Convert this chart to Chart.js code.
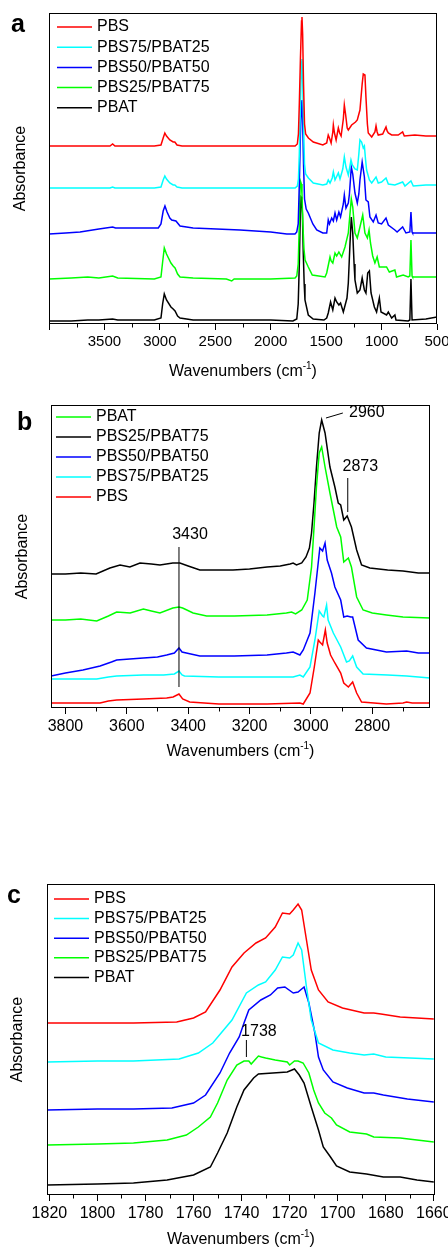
<!DOCTYPE html>
<html lang="en">
<head>
<meta charset="UTF-8">
<title>FTIR spectra PBS/PBAT</title>
<script src="https://cdn.jsdelivr.net/npm/chart.js"></script>
<style>
    body { margin: 0; background: #fff; width: 448px; height: 1248px; position: relative; overflow: hidden; }
    canvas { position: absolute; left: 0; }
</style>
</head>
<body>
<canvas id="chartA" width="448" height="385" style="top:0px"></canvas>
<canvas id="chartB" width="448" height="375" style="top:390px"></canvas>
<canvas id="chartC" width="448" height="378" style="top:870px"></canvas>
<script>
// series names and colours (legend order)
var namesAC = ['PBS', 'PBS75/PBAT25', 'PBS50/PBAT50', 'PBS25/PBAT75', 'PBAT'];
var colorsAC = ['#ff0000', '#00ffff', '#0000ff', '#00ff00', '#000000'];
var namesB = ['PBAT', 'PBS25/PBAT75', 'PBS50/PBAT50', 'PBS75/PBAT25', 'PBS'];
var colorsB = ['#00ff00', '#000000', '#0000ff', '#00ffff', '#ff0000'];

// panel a: [wavenumber, absorbance (offset, a.u.)]
var pbsA = [[4000,178],[3700,178],[3450,178],[3426,180],[3405,178],[3050,178],[2990,179],[2970,186],[2955,191],[2940,188],[2910,184],[2880,182],[2865,182],[2845,179],[2800,178],[2000,178],[1780,178],[1760,180],[1750,190],[1742,220],[1732,265],[1722,303],[1718,307],[1712,290],[1704,240],[1695,200],[1685,190],[1660,186],[1616,182],[1530,179],[1495,181],[1481,189],[1470,186],[1455,181],[1440,192],[1435,199],[1425,191],[1410,184],[1390,196],[1378,191],[1365,188],[1345,205],[1336,219],[1325,210],[1310,196],[1300,194],[1270,199],[1235,202],[1219,204],[1195,214],[1175,240],[1165,250],[1150,249],[1141,227],[1128,200],[1120,191],[1089,187],[1060,192],[1050,198],[1040,192],[1030,189],[990,190],[960,197],[950,193],[939,191],[909,189],[850,189],[810,192],[795,188],[700,189],[600,188],[500,188]];
var pbs75A = [[4000,136],[3700,136],[3450,136],[3426,137],[3405,136],[3050,136],[2990,137],[2970,144],[2955,148],[2940,145],[2910,141],[2880,139],[2865,139],[2845,137],[2800,136],[2000,136],[1780,136],[1760,138],[1750,145],[1742,170],[1732,220],[1722,262],[1718,265],[1712,245],[1704,200],[1695,160],[1685,150],[1660,146],[1616,141],[1530,139],[1495,140],[1481,144],[1465,141],[1445,146],[1435,152],[1420,144],[1390,151],[1375,145],[1350,155],[1336,167],[1321,157],[1300,149],[1285,158],[1276,164],[1264,159],[1240,155],[1219,154],[1205,170],[1195,184],[1180,182],[1165,176],[1155,178],[1145,165],[1135,154],[1110,144],[1089,141],[1050,147],[1030,141],[1000,142],[960,146],[939,140],[880,139],[810,142],[789,138],[735,143],[714,138],[600,139],[500,139]];
var pbs50A = [[4000,90],[3850,91],[3720,92],[3550,95],[3426,97],[3400,96],[3050,96],[3014,96],[2990,100],[2970,113],[2954,118],[2935,112],[2910,106],[2893,104],[2855,103],[2818,98],[2700,96],[2277,94],[2000,92],[1855,90],[1781,90],[1765,92],[1752,100],[1742,140],[1732,190],[1722,222],[1718,224],[1712,205],[1704,160],[1695,125],[1680,115],[1661,111],[1620,100],[1585,94],[1530,91],[1495,91],[1481,104],[1470,100],[1450,106],[1435,103],[1420,111],[1405,104],[1385,112],[1370,107],[1345,120],[1336,129],[1321,116],[1300,121],[1290,130],[1273,157],[1260,150],[1240,131],[1219,121],[1205,130],[1195,144],[1175,162],[1155,147],[1141,124],[1120,122],[1105,107],[1075,102],[1050,109],[1030,101],[1000,100],[960,106],[939,99],[880,94],[860,92],[810,97],[780,91],[745,92],[735,112],[725,92],[720,91],[600,91],[500,91]];
var pbs25A = [[4000,45],[3800,46],[3650,47],[3550,46],[3426,48],[3380,46],[3050,45],[2990,47],[2975,62],[2960,76],[2940,70],[2900,61],[2880,58],[2863,56],[2840,50],[2818,47],[2700,46],[2400,45],[2352,43],[2330,45],[2000,45],[1780,46],[1765,48],[1752,60],[1742,100],[1735,138],[1730,142],[1724,140],[1718,130],[1710,100],[1700,75],[1690,64],[1661,57],[1625,49],[1510,47],[1495,51],[1465,67],[1455,63],[1440,61],[1420,71],[1405,68],[1385,72],[1360,67],[1330,77],[1300,91],[1285,110],[1273,125],[1260,117],[1240,91],[1219,86],[1195,97],[1170,109],[1150,91],[1128,86],[1113,94],[1100,81],[1080,68],[1060,61],[1040,67],[1020,57],[990,57],[955,57],[930,52],[880,54],[865,47],[805,49],[760,47],[745,48],[735,84],[725,48],[720,47],[600,47],[500,47]];
var pbatA = [[4000,3],[3800,3],[3650,4],[3550,4],[3426,5],[3380,4],[3050,4],[2990,6],[2975,20],[2960,30],[2940,24],[2900,17],[2880,15],[2863,13],[2840,8],[2818,6],[2700,4],[2000,4],[1800,3],[1765,5],[1752,20],[1742,60],[1733,110],[1726,127],[1720,126],[1714,110],[1706,70],[1698,40],[1691,24],[1661,9],[1617,5],[1520,4],[1495,6],[1481,11],[1460,22],[1440,14],[1420,26],[1405,22],[1385,19],[1370,21],[1345,12],[1312,26],[1300,41],[1285,80],[1273,107],[1260,91],[1248,60],[1240,44],[1219,31],[1195,34],[1175,46],[1155,34],[1141,31],[1125,51],[1110,53],[1095,31],[1065,17],[1045,12],[1020,26],[1005,12],[955,9],[939,12],[909,6],[880,9],[870,4],[760,3],[745,4],[735,45],[725,4],[720,4],[600,5],[500,7]];

// panel b (3850-2600 cm-1)
var pbatB = [[3847,88],[3800,88],[3750,89],[3698,87],[3660,92],[3633,96],[3589,95],[3546,99],[3520,97],[3492,95],[3450,100],[3430,101],[3418,100],[3384,95],[3340,92],[3250,92],[3143,93],[3080,95],[3063,96],[3050,94],[3030,98],[3012,108],[2998,141],[2990,180],[2982,221],[2973,255],[2965,261],[2954,241],[2938,215],[2916,181],[2903,171],[2893,146],[2878,150],[2868,141],[2851,111],[2830,98],[2800,95],[2754,93],[2700,91],[2612,90]];
var pbs25B = [[3847,134],[3800,134],[3750,135],[3700,134],[3655,140],[3622,143],[3590,141],[3557,145],[3520,144],[3492,143],[3450,145],[3427,145],[3400,142],[3362,138],[3300,138],[3254,138],[3200,139],[3143,141],[3100,142],[3068,144],[3058,145],[3047,143],[3030,145],[3016,151],[3005,160],[2998,175],[2990,205],[2982,241],[2973,275],[2965,288],[2954,275],[2938,241],[2922,221],[2911,205],[2903,203],[2893,188],[2882,192],[2868,181],[2851,158],[2835,143],[2808,140],[2750,138],[2700,137],[2650,135],[2612,135]];
var pbs50B = [[3847,32],[3800,35],[3743,38],[3687,42],[3650,46],[3633,48],[3590,49],[3546,50],[3500,51],[3470,53],[3445,55],[3430,60],[3420,56],[3406,55],[3362,52],[3250,52],[3143,53],[3080,55],[3058,56],[3036,53],[3025,58],[3003,75],[2987,115],[2971,160],[2962,157],[2954,165],[2947,148],[2933,135],[2922,121],[2903,108],[2893,91],[2882,92],[2870,91],[2864,91],[2846,68],[2819,60],[2754,56],[2688,57],[2650,55],[2612,55]];
var pbs75B = [[3847,29],[3750,29],[3698,29],[3660,31],[3633,32],[3546,33],[3480,33],[3445,34],[3430,37],[3420,33],[3412,32],[3300,31],[3254,31],[3100,31],[3058,31],[3036,33],[3025,31],[3003,41],[2987,68],[2973,97],[2962,92],[2958,91],[2949,103],[2944,88],[2927,75],[2903,61],[2884,46],[2875,47],[2864,52],[2851,41],[2830,34],[2750,33],[2688,32],[2650,31],[2612,30]];
var pbsB = [[3847,5],[3750,5],[3687,5],[3660,7],[3633,8],[3546,9],[3470,10],[3449,11],[3430,14],[3418,9],[3395,6],[3300,4],[3143,4],[3036,5],[3025,4],[3003,15],[2989,41],[2976,68],[2971,66],[2962,63],[2953,78],[2947,65],[2936,53],[2922,45],[2903,35],[2893,25],[2878,21],[2864,26],[2851,15],[2835,6],[2754,4],[2700,5],[2688,6],[2670,5],[2612,5]];

// panel c (carbonyl region)
var pbsC = [[1821,172],[1800,172],[1785,172],[1767,173],[1760,177],[1755,183],[1749,205],[1744,228],[1739,242],[1734,252],[1730,257],[1726,268],[1723,282],[1720,281],[1718.5,285],[1716.5,291],[1715,285],[1713,255],[1711,225],[1708,205],[1704,193],[1698,187],[1689,182],[1685,182],[1682,181],[1674,178],[1660,176]];
var pbs75C = [[1821,133],[1800,134],[1785,134],[1766,136],[1758,142],[1752,152],[1744,175],[1738,202],[1733,210],[1730,213],[1726,225],[1723,238],[1720,237],[1718.5,240],[1716.5,252],[1715,245],[1713,208],[1711,175],[1708,152],[1702,145],[1695,142],[1689,140],[1685,141],[1680,138],[1660,136]];
var pbs50C = [[1821,85],[1800,86],[1785,86],[1769,87],[1760,92],[1755,100],[1749,122],[1745,142],[1741,158],[1739,172],[1737,185],[1732,195],[1728,200],[1725,207],[1722,208],[1718.5,202],[1716.5,203],[1714,208],[1712,192],[1709.5,162],[1708,138],[1706,125],[1702,113],[1696,107],[1689,102],[1685,102],[1681,100],[1671,96],[1660,93]];
var pbs25C = [[1821,50],[1800,51],[1785,52],[1771,55],[1763,60],[1758,68],[1753,78],[1750,92],[1746,115],[1742,130],[1739,134],[1737,134],[1736,131],[1734.5,135],[1733,139],[1731.7,138],[1730,137],[1726,135],[1721,133],[1720,130],[1718,134],[1716.5,134],[1714.4,132],[1712,122],[1710,105],[1708,92],[1705.4,82],[1702.6,77],[1700.5,70],[1695,63],[1688,61],[1685,58],[1674,57],[1660,53]];
var pbatC = [[1821,10],[1800,11],[1785,12],[1771,15],[1760,20],[1753,28],[1750,42],[1746,62],[1742,88],[1739,105],[1735,117],[1733,121],[1727,122],[1721,123],[1718,126],[1716,120],[1714,112],[1711,88],[1708,65],[1706,48],[1703,38],[1700.5,29],[1695,23],[1688,21],[1681,18],[1674,18],[1667,15],[1660,13]];

// peak labels: leader line (x0,y0)-(x1,y1) and text position, data units
var peaksB = [
    { text: '3430', x0: 3430, y0: 21, x1: 3430, y1: 161, tx: 3394, ty: 173, align: 'center' },
    { text: '2960', x0: 2951, y0: 290, x1: 2896, y1: 295, tx: 2876, ty: 295, align: 'left' },
    { text: '2873', x0: 2880, y0: 196, x1: 2880, y1: 230, tx: 2839, ty: 241, align: 'center' }
];
var peaksC = [
    { text: '1738', x0: 1738, y0: 138, x1: 1738, y1: 155, tx: 1732.8, ty: 163, align: 'center' }
];

var FONT = "'Liberation Sans', Arial, Helvetica, sans-serif";
Chart.defaults.font.family = FONT;
Chart.defaults.color = '#000';

function toXY(arr) {
    return arr.map(function(p) { return { x: p[0], y: p[1] }; });
}

// frame, minor ticks, inside legend, x title with superscript, peak labels, panel letter
var decor = {
    id: 'decor',
    afterDraw: function(chart, args, o) {
        var ctx = chart.ctx, a = chart.chartArea, sx = chart.scales.x, sy = chart.scales.y;
        ctx.save();
        ctx.strokeStyle = '#000';
        ctx.lineWidth = 1;
        ctx.strokeRect(Math.round(a.left) + 0.5, Math.round(a.top) + 0.5,
            Math.round(a.right - a.left) - 1, Math.round(a.bottom - a.top) - 1);

        // minor ticks (shorter)
        ctx.beginPath();
        sx.ticks.forEach(function(t) {
            if (t.value % o.labelStep !== 0) {
                var px = Math.round(sx.getPixelForValue(t.value)) + 0.5;
                ctx.moveTo(px, Math.round(a.bottom));
                ctx.lineTo(px, Math.round(a.bottom) + 3.5);
            }
        });
        ctx.stroke();

        // legend
        ctx.font = '16px ' + FONT;
        ctx.textBaseline = 'middle';
        ctx.textAlign = 'left';
        chart.data.datasets.forEach(function(ds, i) {
            var yy = a.top + o.legend.y0 + i * o.legend.dy;
            ctx.strokeStyle = ds.borderColor;
            ctx.lineWidth = 1.5;
            ctx.beginPath();
            ctx.moveTo(a.left + o.legend.x0, yy);
            ctx.lineTo(a.left + o.legend.x0 + 35, yy);
            ctx.stroke();
            ctx.fillStyle = '#000';
            ctx.fillText(ds.label, a.left + o.legend.tx, yy);
        });

        // peak labels
        (o.peaks || []).forEach(function(p) {
            ctx.strokeStyle = '#000';
            ctx.lineWidth = 1;
            ctx.beginPath();
            ctx.moveTo(sx.getPixelForValue(p.x0), sy.getPixelForValue(p.y0));
            ctx.lineTo(sx.getPixelForValue(p.x1), sy.getPixelForValue(p.y1));
            ctx.stroke();
            ctx.textAlign = p.align;
            ctx.fillText(p.text, sx.getPixelForValue(p.tx), sy.getPixelForValue(p.ty));
        });

        // x axis title
        var cx = (a.left + a.right) / 2, cy = a.bottom + o.titleDy;
        var t1 = 'Wavenumbers (cm', t2 = '-1', t3 = ')';
        ctx.textAlign = 'left';
        ctx.font = '16px ' + FONT;
        var w1 = ctx.measureText(t1).width, w3 = ctx.measureText(t3).width;
        ctx.font = '10px ' + FONT;
        var w2 = ctx.measureText(t2).width;
        var x0 = cx - (w1 + w2 + w3) / 2;
        ctx.font = '16px ' + FONT;
        ctx.fillText(t1, x0, cy);
        ctx.fillText(t3, x0 + w1 + w2, cy);
        ctx.font = '10px ' + FONT;
        ctx.fillText(t2, x0 + w1, cy - 6);

        // panel letter
        ctx.font = 'bold 25px ' + FONT;
        ctx.textBaseline = 'alphabetic';
        ctx.fillText(o.letter.text, o.letter.x, o.letter.y);
        ctx.restore();
    }
};

function makePanel(id, p) {
    var datasets = p.series.map(function(s, i) {
        return {
            label: p.names[i],
            data: toXY(s),
            borderColor: p.colors[i],
            borderWidth: 1.5,
            pointRadius: 0,
            fill: false,
            tension: 0
        };
    });
    function isMajor(v) { return v % p.labelStep === 0; }
    return new Chart(document.getElementById(id).getContext('2d'), {
        type: 'line',
        data: { datasets: datasets },
        options: {
            responsive: false,
            animation: false,
            layout: { padding: { top: p.padTop, right: p.padRight, left: 0, bottom: 0 } },
            scales: {
                x: {
                    type: 'linear',
                    reverse: true,
                    min: p.xMin,
                    max: p.xMax,
                    ticks: {
                        stepSize: p.step,
                        includeBounds: false,
                        autoSkip: false,
                        maxRotation: 0,
                        padding: 3,
                        font: { size: p.tickSize },
                        callback: function(v) {
                            return (isMajor(v) && v !== p.hideLabel) ? String(v) : '';
                        }
                    },
                    grid: {
                        drawOnChartArea: false,
                        drawTicks: true,
                        tickLength: 6,
                        color: '#000',
                        tickColor: function(c) {
                            return (c.tick && isMajor(c.tick.value)) ? '#000' : 'rgba(0,0,0,0)';
                        }
                    },
                    border: { display: false },
                    afterFit: function(s) { s.height = p.xAxisH; s.paddingLeft = 0; s.paddingRight = 0; }
                },
                y: {
                    min: 0,
                    max: p.yMax,
                    ticks: { display: false },
                    grid: { display: false },
                    border: { display: false },
                    title: {
                        display: true,
                        text: 'Absorbance',
                        font: { size: 16 },
                        padding: { top: p.yTitlePad, bottom: 0 }
                    },
                    afterFit: function(s) { s.width = p.yAxisW; s.paddingTop = 0; s.paddingBottom = 0; }
                }
            },
            plugins: {
                legend: { display: false },
                tooltip: { enabled: false },
                decor: {
                    legend: p.legend,
                    peaks: p.peaks,
                    titleDy: p.titleDy,
                    letter: p.letter,
                    labelStep: p.labelStep
                }
            }
        },
        plugins: [decor]
    });
}

makePanel('chartA', {
    names: namesAC, colors: colorsAC,
    series: [pbsA, pbs75A, pbs50A, pbs25A, pbatA],
    xMin: 500, xMax: 4000, step: 250, labelStep: 500, hideLabel: 4000, tickSize: 15,
    yMax: 311, padTop: 13, padRight: 11, xAxisH: 61, yAxisW: 49, yTitlePad: 11,
    legend: { x0: 8, tx: 48, y0: 14, dy: 20.2 },
    peaks: [], titleDy: 48,
    letter: { text: 'a', x: 11, y: 32 }
});

makePanel('chartB', {
    names: namesB, colors: colorsB,
    series: [pbatB, pbs25B, pbs50B, pbs75B, pbsB],
    xMin: 2612, xMax: 3847, step: 100, labelStep: 200, hideLabel: null, tickSize: 16,
    yMax: 303, padTop: 15, padRight: 18, xAxisH: 57, yAxisW: 51, yTitlePad: 13,
    legend: { x0: 5, tx: 45, y0: 12, dy: 20 },
    peaks: peaksB, titleDy: 44,
    letter: { text: 'b', x: 17, y: 40 }
});

makePanel('chartC', {
    names: namesAC, colors: colorsAC,
    series: [pbsC, pbs75C, pbs50C, pbs25C, pbatC],
    xMin: 1659.5, xMax: 1821, step: 10, labelStep: 20, hideLabel: null, tickSize: 16,
    yMax: 311, padTop: 14, padRight: 13, xAxisH: 53, yAxisW: 47, yTitlePad: 8,
    legend: { x0: 7, tx: 47, y0: 15, dy: 19.6 },
    peaks: peaksC, titleDy: 45,
    letter: { text: 'c', x: 7, y: 33 }
});
</script>
</body>
</html>
